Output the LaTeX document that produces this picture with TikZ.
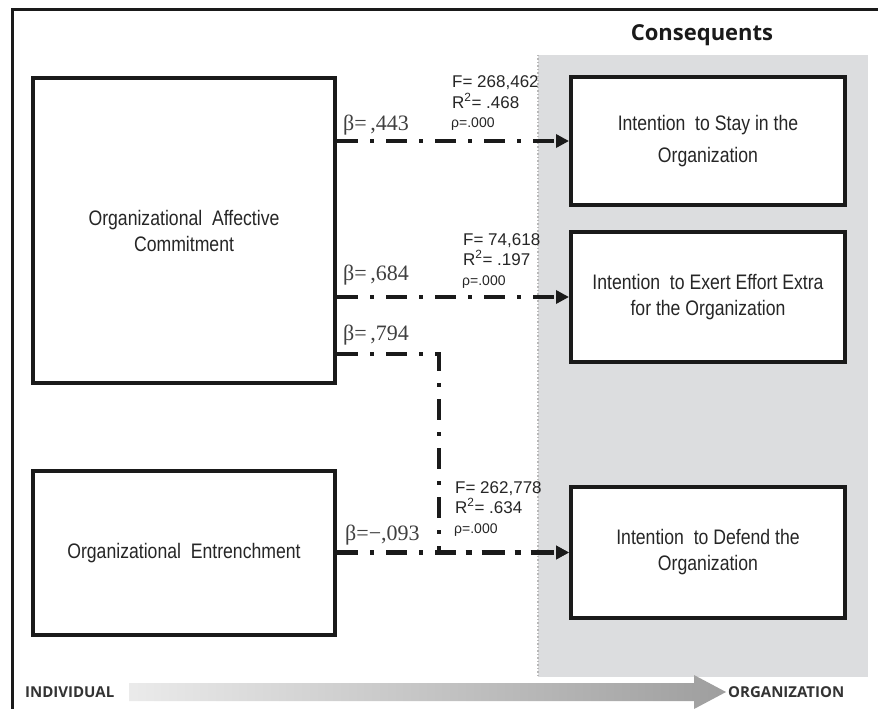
\documentclass[tikz,border=0pt]{standalone}
\usepackage{fontspec}
\setmainfont{Liberation Sans}
\newfontfamily\boxfont[FakeStretch=0.84]{Liberation Sans}
\newfontfamily\betafont{Liberation Serif}
\newfontfamily\headfont{Open Sans}
\usetikzlibrary{arrows.meta}
\definecolor{regiongray}{HTML}{DCDDDF}
\definecolor{edgegray}{HTML}{B8B8B8}
\definecolor{ink}{HTML}{1A1A1A}
\definecolor{txt}{HTML}{262626}
\tikzset{
  bx/.style={draw=ink, line width=4pt, fill=white, align=center, inner sep=0pt,
    text=txt, font=\boxfont\fontsize{21}{26}\selectfont},
  flow/.style={draw=ink, line width=4.5pt, dash pattern=on 21pt off 12pt on 4pt off 12pt,
    -{Triangle[length=13pt,width=13pt]}},
  stat/.style={anchor=base west, inner sep=0pt, text=txt, font=\fontsize{17}{20}\selectfont},
  pstat/.style={anchor=base west, inner sep=0pt, text=txt, font=\fontsize{14}{16}\selectfont},
  beta/.style={anchor=base west, inner sep=0pt, text=black!75, font=\betafont\fontsize{22}{24}\selectfont},
  axislabel/.style={inner sep=0pt, text=black!80, font=\headfont\bfseries\fontsize{15}{18}\selectfont}
}
\begin{document}
\begin{tikzpicture}[x=1pt,y=-1pt]
\useasboundingbox (0,0) rectangle (878,709);
\fill[white] (0,0) rectangle (878,709);
% consequents region
\fill[regiongray] (538,55) rectangle (868,677);
\draw[edgegray, line width=1.5pt, dotted] (538,55) -- (538,677);
% frame
\draw[ink, line width=3pt] (12,709) -- (12,10) -- (878,10);
% title
\node[inner sep=0pt, text=ink, font=\headfont\bfseries\fontsize{22}{26}\selectfont] (cons) at (702,35) {Consequents};
% boxes
\node[bx, minimum width=302pt, minimum height=305pt] (oac) at (184,230.5) {Organizational\ \ Affective\\Commitment};
\node[bx, minimum width=302pt, minimum height=164pt] (oe) at (184,553) {Organizational\ \ Entrenchment};
\node[bx, minimum width=274pt, minimum height=128pt, font=\boxfont\fontsize{21}{32}\selectfont] (s1) at (708,141) {Intention\ \ to Stay in the\\Organization};
\node[bx, minimum width=274pt, minimum height=130pt] (s2) at (708,297) {Intention\ \ to Exert Effort Extra\\for the Organization};
\node[bx, minimum width=274pt, minimum height=131pt] (itd) at (708,552.5) {Intention\ \ to Defend the\\Organization};
% connectors
\coordinate (j1) at (439,354);
\coordinate (j2) at (439,552.5);
\draw[flow] (oac.east |- s1.west) -- (s1.west);
\draw[flow] (oac.east |- s2.west) -- (s2.west);
\draw[flow] (oac.east |- j1) -- (j1) -- (j2) -- (itd.west);
\draw[flow] (oe.east |- itd.west) -- (itd.west);
% statistics
\node[stat] (f1) at (452,88) {F= 268,462};
\node[stat] (r1) at (452,108) {R\textsuperscript{2}= .468};
\node[pstat] (p1) at (451,127) {ρ=.000};
\node[stat] (f2) at (463,245) {F= 74,618};
\node[stat] (r2) at (463,265) {R\textsuperscript{2}= .197};
\node[pstat] (p2) at (462,285) {ρ=.000};
\node[stat] (f3) at (455,493) {F= 262,778};
\node[stat] (r3) at (455,513) {R\textsuperscript{2}= .634};
\node[pstat] (p3) at (454,533) {ρ=.000};
% betas
\node[beta] (b1) at (343,130) {β=\,,443};
\node[beta] (b2) at (343,280) {β=\,,684};
\node[beta] (b3) at (343,340) {β=\,,794};
\node[beta] (b4) at (345,540) {β=−,093};
% bottom axis
\shade[left color=black!8, right color=black!38]
  (129,683) -- (694,683) -- (694,675) -- (726,692) -- (694,709) -- (694,701) -- (129,701) -- cycle;
\node[axislabel, anchor=west] (ind) at (25,692) {INDIVIDUAL};
\node[axislabel, anchor=west] (org) at (728,692) {ORGANIZATION};
\end{tikzpicture}
\end{document}
